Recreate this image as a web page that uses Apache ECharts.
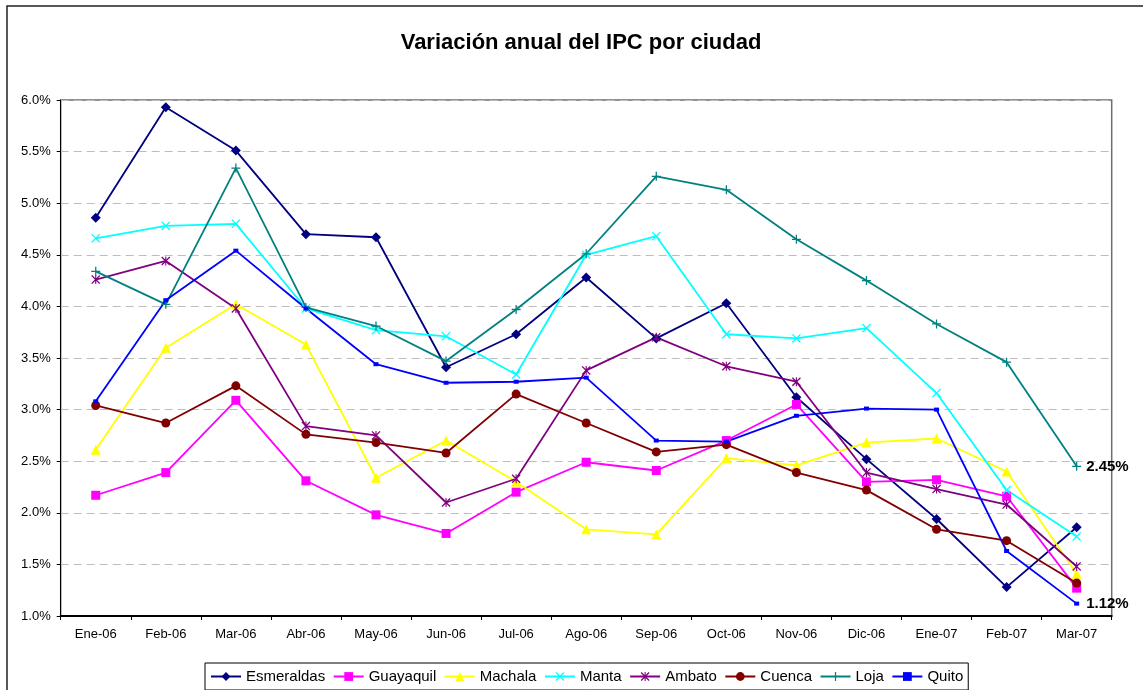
<!DOCTYPE html>
<html>
<head>
<meta charset="utf-8">
<title>Variación anual del IPC por ciudad</title>
<script src="https://cdn.jsdelivr.net/npm/echarts/dist/echarts.min.js"></script>
<style>
	html, body { margin: 0; padding: 0; background: #fff; }
	#chart { width: 1143px; height: 690px; }
</style>
</head>
<body>
<div id="chart"></div>
<script>
	// == datos ==
	const categories = ['Ene-06', 'Feb-06', 'Mar-06', 'Abr-06', 'May-06', 'Jun-06', 'Jul-06', 'Ago-06',
		'Sep-06', 'Oct-06', 'Nov-06', 'Dic-06', 'Ene-07', 'Feb-07', 'Mar-07'];
	const esmeraldas = [4.86, 5.93, 5.51, 4.70, 4.67, 3.41, 3.73, 4.28, 3.69, 4.03, 3.12, 2.52, 1.94, 1.28, 1.86];
	const guayaquil = [2.17, 2.39, 3.09, 2.31, 1.98, 1.80, 2.20, 2.49, 2.41, 2.70, 3.05, 2.30, 2.32, 2.16, 1.27];
	const machala = [2.61, 3.60, 4.02, 3.63, 2.34, 2.70, 2.30, 1.84, 1.79, 2.53, 2.46, 2.68, 2.72, 2.40, 1.41];
	const manta = [4.66, 4.78, 4.80, 3.98, 3.77, 3.71, 3.34, 4.50, 4.68, 3.73, 3.69, 3.79, 3.16, 2.22, 1.77];
	const ambato = [4.26, 4.44, 3.98, 2.84, 2.75, 2.10, 2.33, 3.38, 3.70, 3.42, 3.27, 2.39, 2.23, 2.08, 1.48];
	const cuenca = [3.04, 2.87, 3.23, 2.76, 2.68, 2.58, 3.15, 2.87, 2.59, 2.66, 2.39, 2.22, 1.84, 1.73, 1.32];
	const loja = [4.34, 4.02, 5.34, 3.99, 3.81, 3.47, 3.97, 4.51, 5.26, 5.13, 4.65, 4.25, 3.83, 3.46, 2.45];
	const quito = [3.08, 4.06, 4.54, 3.98, 3.44, 3.26, 3.27, 3.31, 2.70, 2.69, 2.94, 3.01, 3.00, 1.63, 1.12];
	// == eje y ==
	const yMin = 1.0;
	const yMax = 6.0;
	const yStep = 0.5;

	const FONT = 'Arial, "Liberation Sans", sans-serif';

	// == marcadores ==
	const CROSS_X = 'path://M0,1L1,0L5,4L9,0L10,1L6,5L10,9L9,10L5,6L1,10L0,9L4,5Z';
	const STAR = 'path://M0,1L1,0L5,4L9,0L10,1L6,5L10,9L9,10L5,6L1,10L0,9L4,5ZM4.4,0H5.6V10H4.4Z';
	const PLUS = 'path://M4.3,0H5.7V4.3H10V5.7H5.7V10H4.3V5.7H0V4.3H4.3Z';

	// etiqueta en el ultimo punto
	function withEndLabel(values, dist) {
		return values.map((v, i) => {
			if (i !== values.length - 1) return v;
			return {
				value: v,
				label: {
					show: true,
					position: 'right',
					distance: dist,
					formatter: (p) => p.value.toFixed(2) + '%',
					fontFamily: FONT,
					fontWeight: 'bold',
					fontSize: 15,
					color: '#000',
				},
			};
		});
	}

	function line(name, data, color, symbol, size) {
		return {
			name: name,
			type: 'line',
			data: data,
			symbol: symbol,
			symbolSize: size,
			showAllSymbol: true,
			lineStyle: { color: color, width: 1.8 },
			itemStyle: { color: color, borderWidth: 0 },
			emphasis: { disabled: true },
		};
	}

	var myChart = echarts.init(document.getElementById('chart'), null, { renderer: 'canvas' });
	var option = {
		animation: false,
		backgroundColor: '#fff',
		title: {
			text: 'Variación anual del IPC por ciudad',
			left: 576,
			top: 27,
			textAlign: 'center',
			textStyle: { fontFamily: FONT, fontWeight: 'bold', fontSize: 22, color: '#000' },
		},
		graphic: [
			{
				type: 'rect',
				silent: true,
				z: -1,
				shape: { x: 7, y: 6, width: 1300, height: 900 },
				style: { fill: 'none', stroke: '#222', lineWidth: 1.5 },
			},
		],
		legend: {
			left: 205,
			top: 663,
			padding: [6, 5],
			itemWidth: 30,
			itemHeight: 11,
			itemGap: 7.5,
			borderColor: '#000',
			borderWidth: 1,
			textStyle: { fontFamily: FONT, fontSize: 15, color: '#000' },
			data: ['Esmeraldas', 'Guayaquil', 'Machala', 'Manta', 'Ambato', 'Cuenca', 'Loja', 'Quito'],
		},
		grid: {
			left: 60.7,
			top: 100,
			right: 31.3,
			bottom: 74,
			show: true,
			borderColor: '#6e6e6e',
			borderWidth: 1.5,
		},
		xAxis: {
			type: 'category',
			data: categories,
			boundaryGap: true,
			axisLine: { lineStyle: { color: '#000', width: 2 } },
			axisTick: { show: true, length: 4, lineStyle: { color: '#000' } },
			axisLabel: { fontFamily: FONT, fontSize: 13, color: '#000', margin: 12, interval: 0 },
		},
		yAxis: {
			type: 'value',
			min: yMin,
			max: yMax,
			interval: yStep,
			axisLine: { show: true, lineStyle: { color: '#000', width: 1 } },
			axisTick: { show: true, length: 4, lineStyle: { color: '#000' } },
			axisLabel: {
				fontFamily: FONT,
				fontSize: 13,
				color: '#000',
				margin: 10,
				formatter: (v) => v.toFixed(1) + '%',
			},
			splitLine: { lineStyle: { color: '#bdbdbd', type: [8, 5], width: 1 } },
		},
		series: [
			line('Esmeraldas', esmeraldas, '#000080', 'diamond', 10),
			line('Guayaquil', guayaquil, '#FF00FF', 'rect', 9),
			line('Machala', machala, '#FFFF00', 'triangle', 10),
			line('Manta', manta, '#00FFFF', CROSS_X, 9),
			line('Ambato', ambato, '#800080', STAR, 9),
			line('Cuenca', cuenca, '#800000', 'circle', 9),
			line('Loja', withEndLabel(loja, 5), '#008080', PLUS, 9),
			line('Quito', withEndLabel(quito, 7), '#0000FF', 'rect', [5, 4]),
		],
	};

	option && myChart.setOption(option);
</script>
</body>
</html>
